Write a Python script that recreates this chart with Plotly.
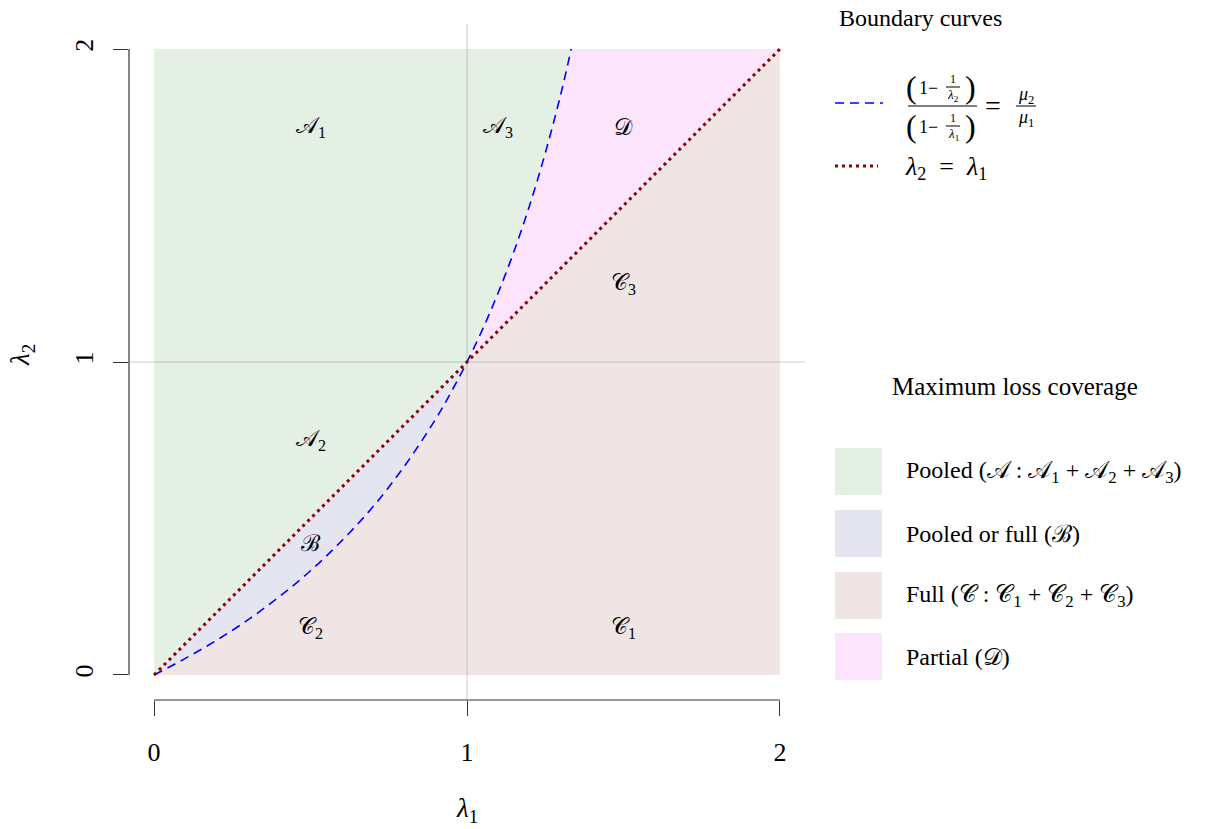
import plotly.graph_objects as go

# Boundary curve (1 - 1/l2) / (1 - 1/l1) = mu2/mu1, sampled points
curve_l1 = [0.0, 0.1, 0.2, 0.3, 0.4, 0.5, 0.6, 0.7, 0.8, 0.9, 0.95, 1.0,
            1.05, 1.1, 1.15, 1.2, 1.25, 1.3, 1.333]
curve_l2 = [0.0, 0.053, 0.111, 0.176, 0.25, 0.333, 0.429, 0.538, 0.667, 0.818, 0.905, 1.0,
            1.105, 1.222, 1.353, 1.5, 1.667, 1.857, 2.0]
# Diagonal l2 = l1
diag_l1 = [0.0, 2.0]
diag_l2 = [0.0, 2.0]

# Region labels
region_text = ["𝒜<sub>1</sub>", "𝒜<sub>3</sub>", "𝒟", "𝒞<sub>3</sub>",
               "𝒜<sub>2</sub>", "ℬ", "𝒞<sub>2</sub>", "𝒞<sub>1</sub>"]
region_x = [0.5, 1.1, 1.5, 1.5, 0.5, 0.5, 0.5, 1.5]
region_y = [1.75, 1.75, 1.75, 1.25, 0.75, 0.42, 0.15, 0.15]

tick_vals = [0, 1, 2]
tick_text = ["0", "1", "2"]

legend_fill_labels = ["Pooled (𝒜 : 𝒜<sub>1</sub> + 𝒜<sub>2</sub> + 𝒜<sub>3</sub>)",
                      "Pooled or full (ℬ)",
                      "Full (𝒞 : 𝒞<sub>1</sub> + 𝒞<sub>2</sub> + 𝒞<sub>3</sub>)",
                      "Partial (𝒟)"]
fill_colors = ["#E5F0E5", "#E5E5F1", "#F0E5E5", "#FCE5FC"]

FONT = "Liberation Serif, DejaVu Serif, serif"
W, H = 1212, 829
ML, MR, MT, MB = 129, 407, 24, 129
PW = W - ML - MR
PH = H - MT - MB


def px(x):
    return (x - ML) / PW


def py(y):
    return (H - MB - y) / PH


lower_x = [v for v in curve_l1 if v <= 1.0]
lower_y = curve_l2[:len(lower_x)]
upper_x = [v for v in curve_l1 if v >= 1.0]
upper_y = curve_l2[len(curve_l1) - len(upper_x):]

fig = go.Figure()

# Region A: above the diagonal (l1<1) and above the curve (l1>1)
fig.add_trace(go.Scatter(
    x=[diag_l1[0], 1.0] + upper_x + [0.0],
    y=[diag_l2[0], 1.0] + upper_y + [2.0],
    fill="toself", fillcolor=fill_colors[0], line=dict(width=0), mode="lines",
    hoverinfo="skip", showlegend=False))
# Region B: between diagonal and curve for l1<1
fig.add_trace(go.Scatter(
    x=[0.0, 1.0] + lower_x[::-1],
    y=[0.0, 1.0] + lower_y[::-1],
    fill="toself", fillcolor=fill_colors[1], line=dict(width=0), mode="lines",
    hoverinfo="skip", showlegend=False))
# Region C: below curve (l1<1) and below diagonal (l1>1)
fig.add_trace(go.Scatter(
    x=lower_x + [diag_l1[1], 2.0, 0.0],
    y=lower_y + [diag_l2[1], 0.0, 0.0],
    fill="toself", fillcolor=fill_colors[2], line=dict(width=0), mode="lines",
    hoverinfo="skip", showlegend=False))
# Region D: between curve and diagonal for l1>1
fig.add_trace(go.Scatter(
    x=upper_x + [diag_l1[1], 1.0],
    y=upper_y + [diag_l2[1], 1.0],
    fill="toself", fillcolor=fill_colors[3], line=dict(width=0), mode="lines",
    hoverinfo="skip", showlegend=False))

# Reference lines at 1
fig.add_trace(go.Scatter(x=[1, 1], y=[-0.08, 2.08], mode="lines",
                         line=dict(color="rgba(110,110,110,0.35)", width=1),
                         hoverinfo="skip", showlegend=False))
fig.add_trace(go.Scatter(x=[-0.08, 2.08], y=[1, 1], mode="lines",
                         line=dict(color="rgba(110,110,110,0.35)", width=1),
                         hoverinfo="skip", showlegend=False))

# Boundary curves
fig.add_trace(go.Scatter(x=curve_l1, y=curve_l2, mode="lines", line_shape="spline",
                         line=dict(color="#0000FF", width=1.6, dash="9px,6px"),
                         hoverinfo="skip", showlegend=False))
fig.add_trace(go.Scatter(x=diag_l1, y=diag_l2, mode="lines",
                         line=dict(color="#8B0000", width=3, dash="3px,4px"),
                         hoverinfo="skip", showlegend=False))

# Region labels
for t, x, y in zip(region_text, region_x, region_y):
    fig.add_annotation(x=x, y=y, text=t, showarrow=False,
                       font=dict(family=FONT, size=23, color="black"))

shapes = []
# Axis lines spanning the tick range
shapes.append(dict(type="line", xref="x", yref="paper", x0=0, x1=2, y0=0, y1=0,
                   line=dict(color="#333", width=1.2)))
shapes.append(dict(type="line", xref="paper", yref="y", x0=0, x1=0, y0=0, y1=2,
                   line=dict(color="#333", width=1.2)))

annotations = []


def text(x, y, s, size=20, xanchor="left", **kw):
    annotations.append(dict(x=px(x), y=py(y), xref="paper", yref="paper", text=s,
                            showarrow=False, xanchor=xanchor, yanchor="middle",
                            font=dict(family=FONT, size=size, color="black"), **kw))


def hline(x0, x1, y, color="black", width=1, dash=None):
    ln = dict(color=color, width=width)
    if dash:
        ln["dash"] = dash
    shapes.append(dict(type="line", xref="paper", yref="paper",
                       x0=px(x0), x1=px(x1), y0=py(y), y1=py(y), line=ln))


# Axis titles
text(467, 810, "<i>λ</i><sub>1</sub>", size=27, xanchor="center")
text(22, 355, "<i>λ</i><sub>2</sub>", size=27, xanchor="center", textangle=-90)

# Legend: boundary curves
text(837, 18, "Boundary curves", size=24)
hline(835, 883, 103, color="#0000FF", width=1.6, dash="9px,6px")
hline(835, 878, 166, color="#8B0000", width=3, dash="3px,4px")


def small_frac(xc, yc, den_sub):
    # 1 / lambda_k in small type
    text(xc, yc - 8, "1", size=12, xanchor="center")
    hline(xc - 7, xc + 7, yc)
    text(xc, yc + 8, "<i>λ</i><sub>%s</sub>" % den_sub, size=13, xanchor="center")


# numerator
text(904, 87, "(", size=32)
text(917, 88, "1−", size=18)
small_frac(953, 87, "2")
text(963, 87, ")", size=32)
# main bar
hline(908, 977, 106, width=1)
# denominator
text(904, 126, "(", size=32)
text(917, 127, "1−", size=18)
small_frac(953, 126, "1")
text(963, 126, ")", size=32)
text(983, 106, "=", size=28)
text(1026, 95, "<i>μ</i><sub>2</sub>", size=18, xanchor="center")
hline(1016, 1036, 106)
text(1026, 118, "<i>μ</i><sub>1</sub>", size=18, xanchor="center")

text(903, 168, "<i>λ</i><sub>2</sub>  =  <i>λ</i><sub>1</sub>", size=26)

# Legend: coverage regions
text(1015, 386, "Maximum loss coverage", size=25, xanchor="center")
box_tops = [448, 510, 572, 633]
for top, col, lab in zip(box_tops, fill_colors, legend_fill_labels):
    shapes.append(dict(type="rect", xref="paper", yref="paper",
                       x0=px(835), x1=px(882), y0=py(top), y1=py(top + 47),
                       fillcolor=col, line=dict(width=0)))
    text(904, top + 24, lab, size=24)

axis_common = dict(range=[-0.08, 2.08], showgrid=False, zeroline=False, showline=False,
                   tickvals=tick_vals, ticktext=tick_text, ticks="outside", ticklen=15,
                   tickwidth=1.2, tickcolor="#333",
                   tickfont=dict(family=FONT, size=26, color="black"))

fig.update_layout(
    width=W, height=H,
    margin=dict(l=ML, r=MR, t=MT, b=MB),
    paper_bgcolor="white", plot_bgcolor="white",
    xaxis=dict(**axis_common, ticklabelstandoff=14),
    yaxis=dict(**axis_common, tickangle=-90, ticklabelstandoff=10),
    shapes=shapes,
    annotations=list(fig.layout.annotations) + annotations,
    showlegend=False,
)

fig.write_html("out.html")
